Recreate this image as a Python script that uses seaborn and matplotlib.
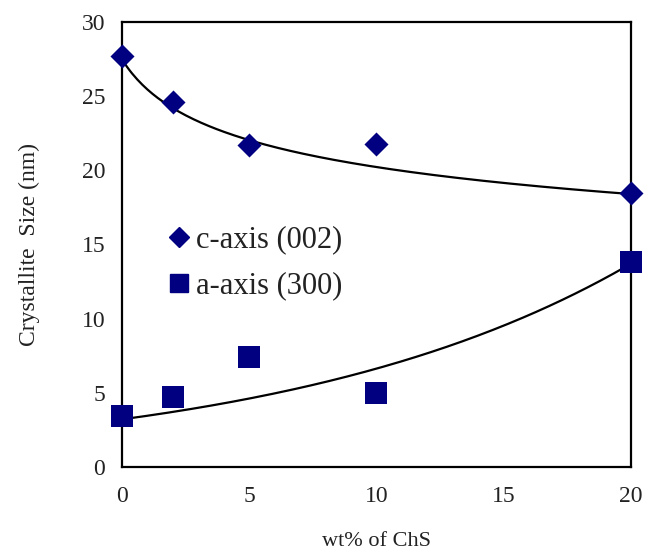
import numpy as np
import pandas as pd
import matplotlib
matplotlib.use("Agg")
import matplotlib.pyplot as plt
import seaborn as sns
from matplotlib.lines import Line2D

# ---- data ----
wt_pct = [0, 2, 5, 10, 20]
c_axis = [27.7, 24.6, 21.7, 21.8, 18.5]
a_axis = [3.4, 4.7, 7.4, 5.0, 13.8]
x_ticks = [0, 5, 10, 15, 20]
y_ticks = [0, 5, 10, 15, 20, 25, 30]
series_labels = ["c-axis (002)", "a-axis (300)"]

# trend-line parameters
c_A, c_x0, c_B = 29.24, 1.5, -0.1509   # y = A*(x+x0)^B
a_A, a_k = 3.2, 0.0727                 # y = A*exp(k x)

sns.set_style("white")
plt.rcParams['font.family'] = ['Liberation Serif', 'DejaVu Serif']

navy = "#000080"
txt = "#222222"

fig = plt.figure(figsize=(6.45, 5.55), dpi=100)
ax = fig.add_axes([0.189, 0.159, 0.789, 0.801])

xs = np.linspace(0, 20, 200)
trend = pd.DataFrame({
    "x": xs,
    "c": c_A * (xs + c_x0) ** c_B,
    "a": a_A * np.exp(a_k * xs),
})
sns.lineplot(data=trend, x="x", y="c", ax=ax, color="black", lw=1.6, zorder=2)
sns.lineplot(data=trend, x="x", y="a", ax=ax, color="black", lw=1.6, zorder=2)

pts = pd.DataFrame({"x": wt_pct, "c": c_axis, "a": a_axis})
sns.scatterplot(data=pts, x="x", y="c", ax=ax, marker="D", s=150, color=navy,
                edgecolor=navy, linewidth=0, zorder=3, clip_on=False)
sns.scatterplot(data=pts, x="x", y="a", ax=ax, marker="s", s=250, color=navy,
                edgecolor=navy, linewidth=0, zorder=3, clip_on=False)

ax.set_xlim(0, 20)
ax.set_ylim(0, 30)
ax.set_xticks(x_ticks)
ax.set_yticks(y_ticks)
ax.tick_params(axis="both", direction="in", length=6, width=1.5,
               labelsize=17, pad=12, colors="black", labelcolor=txt)
ax.tick_params(axis="x", pad=14)
for sp in ax.spines.values():
    sp.set_visible(True)
    sp.set_linewidth(1.6)
    sp.set_color("black")

ax.set_xlabel("wt% of ChS", fontsize=16, labelpad=18, color=txt)
ax.set_ylabel("Crystallite  Size (nm)", fontsize=17, labelpad=30, color=txt)

handles = [
    Line2D([], [], marker="D", color=navy, ls="none", markersize=10),
    Line2D([], [], marker="s", color=navy, ls="none", markersize=13),
]
ax.legend(handles, series_labels, loc="upper left", bbox_to_anchor=(0.058, 0.57),
          frameon=False, fontsize=22, handletextpad=0.05, handlelength=1.0,
          labelspacing=0.55, borderaxespad=0, labelcolor=txt)

fig.savefig("out.png", dpi=100)
